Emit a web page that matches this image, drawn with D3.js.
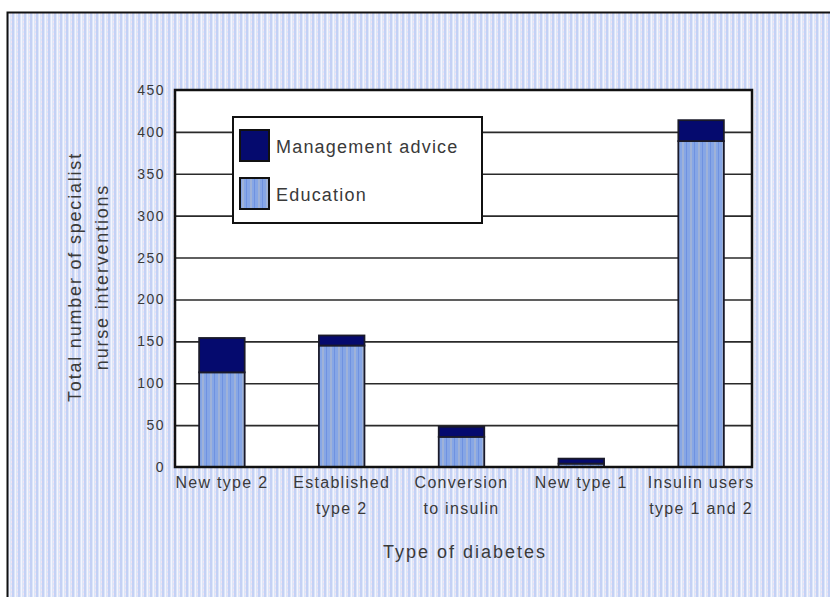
<!DOCTYPE html>
<html>
<head>
<meta charset="utf-8">
<script src="https://cdn.jsdelivr.net/npm/d3@7"></script>
<style>
  html, body { margin: 0; padding: 0; background: #fff; }
  svg { display: block; }
  text { font-family: "Liberation Sans", Arial, sans-serif; fill: #3a3a3a; }
</style>
</head>
<body>
<div id="chart"></div>
<script>
// data
var categories = ['New type 2', 'Established type 2', 'Conversion to insulin', 'New type 1', 'Insulin users type 1 and 2'];
var categoryLines = [['New type 2'], ['Established', 'type 2'], ['Conversion', 'to insulin'], ['New type 1'], ['Insulin users', 'type 1 and 2']];
var education = [113, 145, 36, 4, 389];
var management = [41, 12, 12, 6, 25];
var seriesNames = ['Management advice', 'Education'];
var yTicks = [0, 50, 100, 150, 200, 250, 300, 350, 400, 450];

var width = 830, height = 599;
var plot = { left: 175, top: 90, right: 752, bottom: 467 };

var svg = d3.select('#chart').append('svg')
    .attr('width', width)
    .attr('height', height);

var defs = svg.append('defs');
// dithered light-blue backdrop
var bg = defs.append('pattern').attr('id', 'bgdither')
    .attr('patternUnits', 'userSpaceOnUse').attr('width', 6).attr('height', 4);
bg.append('rect').attr('width', 6).attr('height', 4).attr('fill', '#dde5f8');
bg.append('rect').attr('x', 0).attr('width', 2).attr('height', 4).attr('fill', '#c4d1f5');
bg.append('rect').attr('x', 3).attr('width', 1).attr('height', 4).attr('fill', '#f4f6fd');
bg.append('rect').attr('x', 5).attr('y', 1).attr('width', 1).attr('height', 2).attr('fill', '#f2e4f2');
// striped education fill
var edu = defs.append('pattern').attr('id', 'edustripe')
    .attr('patternUnits', 'userSpaceOnUse').attr('width', 8).attr('height', 4);
edu.append('rect').attr('width', 8).attr('height', 4).attr('fill', '#86a6e6');
edu.append('rect').attr('x', 2).attr('width', 2).attr('height', 4).attr('fill', '#9fb2d8');
edu.append('rect').attr('x', 6).attr('width', 1).attr('height', 4).attr('fill', '#6f92e0');

// outer panel
svg.append('rect')
    .attr('x', 7).attr('y', 12)
    .attr('width', width - 7).attr('height', 585)
    .attr('fill', 'url(#bgdither)');
svg.append('path')
    .attr('d', 'M7.5,597 V12.5 H' + width)
    .attr('fill', 'none').attr('stroke', '#111').attr('stroke-width', 2);

// scales
var x = d3.scaleBand()
    .domain(categories)
    .range([162, 761])
    .paddingInner(0.62)
    .paddingOuter(0.31);
var y = d3.scaleLinear()
    .domain([0, 450])
    .range([plot.bottom, plot.top]);

// plot background
svg.append('rect')
    .attr('x', plot.left).attr('y', plot.top)
    .attr('width', plot.right - plot.left).attr('height', plot.bottom - plot.top)
    .attr('fill', '#fff');

// gridlines
svg.append('g')
    .attr('class', 'grid')
    .attr('transform', 'translate(' + plot.left + ',0)')
    .call(d3.axisRight(y).tickValues(yTicks.slice(1, -1)).tickSize(plot.right - plot.left).tickFormat(''))
    .call(function (g) { g.select('.domain').remove(); })
    .call(function (g) { g.selectAll('line').attr('stroke', '#2a2a2a').attr('stroke-width', 1.6); });

// bars
var stackData = categories.map(function (c, i) {
    return { cat: c, edu: education[i], mgmt: management[i] };
});
var bars = svg.append('g').attr('class', 'bars');
bars.selectAll('rect.edu')
    .data(stackData).enter().append('rect')
    .attr('class', 'edu')
    .attr('x', function (d) { return x(d.cat); })
    .attr('y', function (d) { return y(d.edu); })
    .attr('width', x.bandwidth())
    .attr('height', function (d) { return y(0) - y(d.edu); })
    .attr('fill', 'url(#edustripe)')
    .attr('stroke', '#1a1a2a').attr('stroke-width', 1.8);
bars.selectAll('rect.mgmt')
    .data(stackData).enter().append('rect')
    .attr('class', 'mgmt')
    .attr('x', function (d) { return x(d.cat); })
    .attr('y', function (d) { return y(d.edu + d.mgmt); })
    .attr('width', x.bandwidth())
    .attr('height', function (d) { return y(d.edu) - y(d.edu + d.mgmt); })
    .attr('fill', '#050a6e')
    .attr('stroke', '#1a1a2a').attr('stroke-width', 1.8);

// plot frame
svg.append('rect')
    .attr('x', plot.left).attr('y', plot.top)
    .attr('width', plot.right - plot.left).attr('height', plot.bottom - plot.top)
    .attr('fill', 'none').attr('stroke', '#111').attr('stroke-width', 2.5);

// y axis labels
var yAxis = svg.append('g')
    .attr('class', 'axis axis-y')
    .attr('transform', 'translate(' + plot.left + ',0)')
    .call(d3.axisLeft(y).tickValues(yTicks).tickSize(0).tickPadding(10));
yAxis.select('.domain').remove();
yAxis.selectAll('text')
    .style('font-family', '"Liberation Sans", Arial, sans-serif')
    .style('font-size', '14px').style('letter-spacing', '1.5px')
    .attr('fill', '#3a3a3a');

// x axis labels
var xAxis = svg.append('g')
    .attr('class', 'axis axis-x')
    .attr('transform', 'translate(0,' + plot.bottom + ')')
    .call(d3.axisBottom(x).tickSize(0).tickFormat(''));
xAxis.select('.domain').remove();
xAxis.selectAll('.tick').each(function (d, i) {
    var t = d3.select(this).append('text')
        .attr('text-anchor', 'middle')
        .style('font-size', '16px').style('letter-spacing', '1.3px');
    categoryLines[i].forEach(function (line, j) {
        t.append('tspan').attr('x', 0).attr('y', 21 + j * 26).text(line);
    });
});

// axis titles
svg.append('text')
    .attr('x', 465).attr('y', 558)
    .attr('text-anchor', 'middle')
    .style('font-size', '18px').style('letter-spacing', '2px')
    .text('Type of diabetes');
var yt = svg.append('text')
    .attr('transform', 'translate(81,277) rotate(-90)')
    .attr('text-anchor', 'middle')
    .style('font-size', '18px').style('letter-spacing', '1.8px');
yt.append('tspan').attr('x', 0).attr('y', 0).text('Total number of specialist');
yt.append('tspan').attr('x', 0).attr('y', 27).text('nurse interventions');

// legend
var legend = svg.append('g').attr('transform', 'translate(233,117)');
legend.append('rect')
    .attr('width', 249).attr('height', 106)
    .attr('fill', '#fff').attr('stroke', '#111').attr('stroke-width', 2);
var legendFills = ['#050a6e', 'url(#edustripe)'];
seriesNames.forEach(function (name, i) {
    var row = legend.append('g').attr('transform', 'translate(7,' + (13 + i * 48) + ')');
    row.append('rect')
        .attr('width', 29).attr('height', 31)
        .attr('fill', legendFills[i])
        .attr('stroke', '#111').attr('stroke-width', 2);
    row.append('text')
        .attr('x', 36).attr('y', 23)
        .style('font-size', '18px').style('letter-spacing', '1.2px')
        .text(name);
});
</script>
</body>
</html>
